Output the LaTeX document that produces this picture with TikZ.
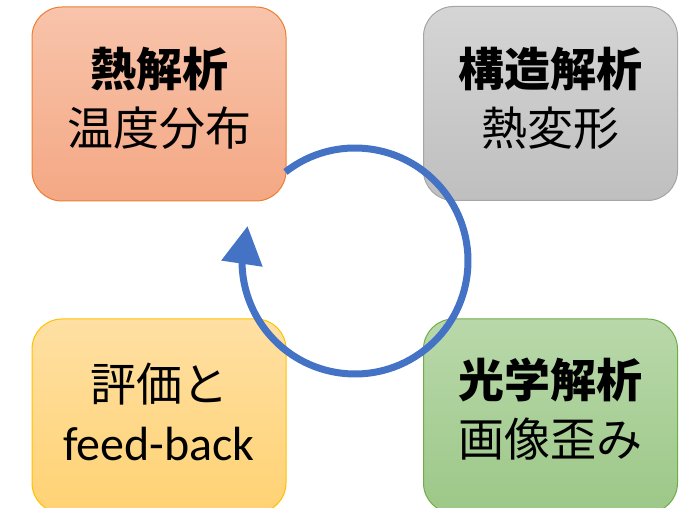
\documentclass[tikz,border=0pt]{standalone}
\usepackage{fontspec}
\newfontfamily\jp{Noto Sans CJK JP}
\newfontfamily\lat{Carlito}
\usetikzlibrary{arrows.meta,bending}
\definecolor{orB}{HTML}{ED7D31}\definecolor{orT}{HTML}{F8C4AB}\definecolor{orD}{HTML}{F4A884}
\definecolor{grB}{HTML}{A5A5A5}\definecolor{grT}{HTML}{D5D5D5}\definecolor{grD}{HTML}{BFBFBF}
\definecolor{yeB}{HTML}{FFC000}\definecolor{yeT}{HTML}{FFE0A3}\definecolor{yeD}{HTML}{FFD273}
\definecolor{gnB}{HTML}{70AD47}\definecolor{gnT}{HTML}{B9D8AA}\definecolor{gnD}{HTML}{9CC888}
\definecolor{cyc}{HTML}{4472C4}
\begin{document}
\begin{tikzpicture}[x=1pt,y=1pt,
  box/.style={rounded corners=30pt, minimum width=254pt, minimum height=194pt,
    line width=1pt, inner sep=0pt},
  boxtext/.style={align=center, inner sep=0pt,
    font=\jp\fontsize{46pt}{59pt}\selectfont},
  cycarrow/.style={draw=cyc, line width=7pt, -{Triangle[length=38pt,width=40pt]}}]
\useasboundingbox (0,0) rectangle (685,508);
\clip (0,0) rectangle (685,508);
\node[box, draw=orB, top color=orT, bottom color=orD] (heat) at (159,404) {};
\node[box, draw=grB, top color=grT, bottom color=grD] (struct) at (550.5,404.5) {};
\node[box, draw=yeB, top color=yeT, bottom color=yeD] (eval) at (159,92) {};
\node[box, draw=gnB, top color=gnT, bottom color=gnD] (optic) at (550.5,92) {};
\node[boxtext] (heat-t) at ([yshift=6pt]heat.center) {\textbf{熱解析}\\温度分布};
\node[boxtext] (struct-t) at ([yshift=5pt]struct.center) {\textbf{構造解析}\\熱変形};
\node[boxtext] (eval-t) at ([yshift=4pt]eval.center) {評価と\\{\lat\fontsize{48pt}{59pt}\selectfont feed-back}};
\node[boxtext] (optic-t) at ([yshift=7pt]optic.center) {\textbf{光学解析}\\画像歪み};
\coordinate (c) at (355,247);
\draw[cycarrow] ([shift={(128:113)}]c) arc[start angle=128, end angle=-198, radius=113];
\end{tikzpicture}
\end{document}
